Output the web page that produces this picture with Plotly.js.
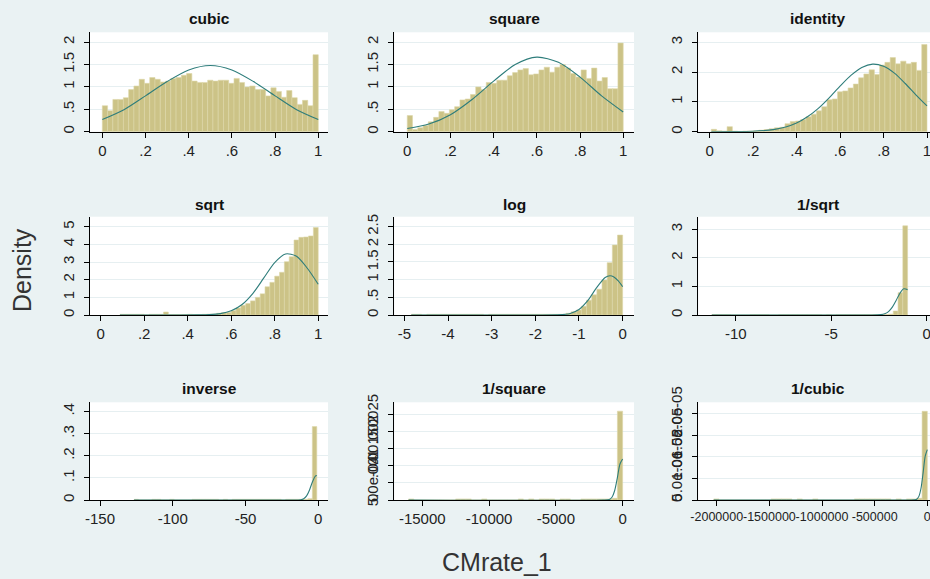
<!DOCTYPE html>
<html><head><meta charset="utf-8">
<script src="https://cdn.plot.ly/plotly-3.0.1.min.js"></script>
<style>html,body{margin:0;padding:0;overflow:hidden;background:#eaf2f3;width:930px;height:579px}#chart{width:945px;height:579px}</style>
</head><body><div id="chart"></div>
<script>
// ---------- DATA ----------
const panelTitles = ["cubic","square","identity","sqrt","log","1/sqrt","inverse","1/square","1/cubic"];
const yAxisTitle = "Density";
const xAxisTitle = "CMrate_1";

// histogram bin limits (data min / max of each transform), 41 bins each
const binLo = [0, 0, 0.0079, 0.0889, -4.84, -11.25, -126.6, -16023, -2028000];
const binHi = [1, 1, 1, 1, 0, -1, -1, -1, -1];

const cubicDensity = [0.58,0.47,0.72,0.72,0.76,0.94,1.02,1.17,1.08,1.21,1.17,1.11,1.13,1.19,1.21,1.26,1.30,1.13,1.10,1.10,1.15,1.13,1.15,1.15,1.08,1.19,1.10,1.00,1.02,0.94,0.94,0.80,0.98,0.90,0.77,0.92,0.76,0.61,0.70,0.58,1.72];
const squareDensity = [0.36,0.05,0.09,0.14,0.22,0.32,0.45,0.41,0.49,0.56,0.71,0.73,0.83,1.00,0.94,1.10,1.08,1.15,1.15,1.25,1.32,1.38,1.41,1.27,1.29,1.38,1.44,1.33,1.44,1.50,1.42,1.30,1.22,1.38,1.19,1.42,1.13,1.21,0.96,0.96,1.98];
const identityDensity = [0.08,0.03,0.02,0.17,0.02,0.01,0.02,0.02,0.03,0.05,0.07,0.10,0.13,0.15,0.27,0.34,0.36,0.41,0.50,0.59,0.70,0.84,1.07,1.10,1.34,1.37,1.47,1.60,1.81,1.94,2.08,1.92,2.24,2.33,2.49,2.28,2.37,2.28,2.33,2.06,2.93];
const sqrtDensity = [0.04,0.04,0.04,0.04,0.04,0,0.04,0.04,0.04,0.17,0.03,0.03,0.03,0.03,0.04,0.03,0.03,0.04,0.05,0.05,0.10,0.13,0.15,0.25,0.40,0.55,0.65,0.80,1.00,1.20,1.60,1.85,2.20,2.42,3.02,3.30,4.25,4.40,4.42,4.48,4.96];
const logDensity = [0.02,0.02,0,0.02,0.02,0.02,0.02,0.02,0.02,0.02,0.02,0.02,0.02,0.02,0,0.02,0.02,0.02,0.02,0.02,0.02,0.02,0.02,0.02,0.02,0.02,0.02,0.02,0.02,0.02,0.05,0.09,0.14,0.25,0.42,0.57,0.73,0.99,1.48,1.98,2.26];
const invSqrtDensity = [0.015,0.015,0.015,0.015,0,0,0,0,0.015,0.015,0.015,0.015,0,0,0.015,0.015,0.015,0.015,0.015,0.015,0.015,0.015,0.015,0,0.015,0,0.015,0.015,0.015,0.015,0.015,0.015,0.015,0.015,0.015,0.015,0.015,0.03,0.14,0.78,3.12];
const inverseDensity = [0.003,0,0,0,0.003,0.003,0,0,0.003,0,0,0,0,0.003,0.003,0.003,0.003,0.003,0.003,0,0.003,0,0.003,0.003,0.003,0.003,0.003,0.003,0.003,0.003,0.003,0.003,0.003,0,0.003,0.003,0.003,0.003,0.003,0.006,0.332];
const invSquareDensity = [0.00003,0,0,0,0,0,0,0,0,0.00003,0.00003,0.00003,0,0,0.00003,0,0,0,0,0,0,0.00003,0,0.00003,0,0.00003,0.00003,0.00003,0,0.00003,0.00003,0,0,0.00003,0.00003,0.00003,0.00003,0.00003,0.00003,0.00005,0.00261];
const invCubicDensity = [2.5e-7,0,0,0,0,0,0,0,0,0,0,2.5e-7,2.5e-7,2.5e-7,2.5e-7,0,2.5e-7,0,0,2.5e-7,0,0,0,0,0,0,0,2.5e-7,2.5e-7,2.5e-7,2.5e-7,2.5e-7,2.5e-7,2.5e-7,0,2.5e-7,0,2.5e-7,2.5e-7,4e-7,2.06e-5];

// normal-density overlay
const cubicCurveX = [0,0.1,0.2,0.3,0.4,0.5,0.6,0.7,0.8,0.9,1];
const cubicCurveY = [0.27,0.49,0.80,1.12,1.38,1.48,1.38,1.12,0.80,0.49,0.27];
const squareCurveX = [0,0.1,0.2,0.3,0.4,0.5,0.6,0.7,0.8,0.9,1];
const squareCurveY = [0.07,0.17,0.38,0.72,1.13,1.50,1.665,1.55,1.22,0.80,0.44];
const identityCurveX = [0.0079,0.1,0.2,0.3,0.35,0.4,0.45,0.5,0.55,0.6,0.65,0.7,0.75,0.8,0.85,0.9,0.95,1];
const identityCurveY = [0,0.002,0.015,0.078,0.157,0.29,0.50,0.785,1.14,1.53,1.89,2.157,2.27,2.20,1.97,1.62,1.23,0.865];
const sqrtCurveX = [0.0889,0.3,0.45,0.5,0.55,0.6,0.65,0.7,0.75,0.8,0.85,0.9,0.95,1];
const sqrtCurveY = [0,0,0.005,0.021,0.078,0.238,0.595,1.23,2.10,2.97,3.46,3.33,2.65,1.74];
const logCurveX = [-4.84,-2,-1.5,-1.3,-1.2,-1.0,-0.8,-0.6,-0.4,-0.29,-0.2,-0.1,0];
const logCurveY = [0,0,0.004,0.021,0.045,0.157,0.405,0.765,1.059,1.11,1.076,0.965,0.80];
const invSqrtCurveX = [-11.25,-3,-2.4,-2.2,-2.0,-1.8,-1.6,-1.4,-1.2,-1.0];
const invSqrtCurveY = [0,0,0.012,0.041,0.119,0.275,0.51,0.763,0.918,0.888];
const inverseCurveX = [-126.6,-20,-12,-10,-8,-6,-4,-2,-1];
const inverseCurveY = [0,0,0.0012,0.0056,0.0186,0.0455,0.0818,0.108,0.111];
const invSquareCurveX = [-16023,-1500,-1000,-800,-600,-400,-200,-1];
const invSquareCurveY = [0,0,0.000016,0.00008,0.000272,0.000645,0.001059,0.001204];
const invCubicCurveX = [-2028000,-200000,-120000,-100000,-80000,-60000,-40000,-20000,-1];
const invCubicCurveY = [0,0,2.8e-8,1.84e-7,8.4e-7,2.73e-6,6.28e-6,1.02e-5,1.17e-5];

// tick values and labels
const xTickVals = [
  [0,0.2,0.4,0.6,0.8,1],[0,0.2,0.4,0.6,0.8,1],[0,0.2,0.4,0.6,0.8,1],
  [0,0.2,0.4,0.6,0.8,1],[-5,-4,-3,-2,-1,0],[-10,-5,0],
  [-150,-100,-50,0],[-15000,-10000,-5000,0],[-2000000,-1500000,-1000000,-500000,0]];
const xTickText = [
  ["0",".2",".4",".6",".8","1"],["0",".2",".4",".6",".8","1"],["0",".2",".4",".6",".8","1"],
  ["0",".2",".4",".6",".8","1"],["-5","-4","-3","-2","-1","0"],["-10","-5","0"],
  ["-150","-100","-50","0"],["-15000","-10000","-5000","0"],["-2000000","-1500000","-1000000","-500000","0"]];
const yTickVals = [
  [0,0.5,1,1.5,2],[0,0.5,1,1.5,2],[0,1,2,3],
  [0,1,2,3,4,5],[0,0.5,1,1.5,2,2.5],[0,1,2,3],
  [0,0.1,0.2,0.3,0.4],[0,0.0005,0.001,0.0015,0.002,0.0025],[0,0.000005,0.00001,0.000015,0.00002]];
const yTickText = [
  ["0",".5","1","1.5","2"],["0",".5","1","1.5","2"],["0","1","2","3"],
  ["0","1","2","3","4","5"],["0",".5","1","1.5","2","2.5"],["0","1","2","3"],
  ["0",".1",".2",".3",".4"],["0","5.0e-04",".001",".0015",".002",".0025"],["0","5.0e-06","1.0e-05","1.5e-05","2.0e-05"]];

// ---------- BUILD ----------
const densities = [cubicDensity,squareDensity,identityDensity,sqrtDensity,logDensity,invSqrtDensity,inverseDensity,invSquareDensity,invCubicDensity];
const curvesX = [cubicCurveX,squareCurveX,identityCurveX,sqrtCurveX,logCurveX,invSqrtCurveX,inverseCurveX,invSquareCurveX,invCubicCurveX];
const curvesY = [cubicCurveY,squareCurveY,identityCurveY,sqrtCurveY,logCurveY,invSqrtCurveY,inverseCurveY,invSquareCurveY,invCubicCurveY];

const W = 945, H = 579;
const colL = [90, 394.3, 698.3], colR = [328, 634, 937];
const rowT = [32.3, 216.7, 402.3], rowB = [131.7, 315, 500], titleY = [18, 204, 388];
const xRanges = [[-0.057,1.045],[-0.06,1.05],[-0.052,1.046],[-0.049,1.045],[-5.23,0.26],[-11.96,0.54],[-156.9,6.7],[-17096,850],[-2175000,92000]];
const yRanges = [[0,2.22],[0,2.22],[0,3.34],[0,5.57],[0,2.78],[0,3.44],[0,0.442],[0,0.00287],[0,2.27e-5]];
const xTickSize = [15,15,15,15,15,15,15,15,12.5];

const FONT = "Liberation Sans, Arial, sans-serif";
const barFill = "#ccc387", barLine = "#ddd6aa", curveColor = "#2e7d7b";

const traces = [];
const layout = {
  width: W, height: H, margin:{l:0,r:0,t:0,b:0},
  paper_bgcolor:"#eaf2f3", plot_bgcolor:"#ffffff",
  showlegend:false, font:{family:FONT, color:"#222"},
  annotations: []
};

for (let k = 0; k < 9; k++) {
  const r = Math.floor(k/3), c = k % 3;
  const sfx = k === 0 ? "" : String(k+1);
  const nb = densities[k].length;
  const w = (binHi[k] - binLo[k]) / nb;
  const centers = densities[k].map((_, i) => binLo[k] + (i + 0.5) * w);
  traces.push({type:"bar", x:centers, y:densities[k], width:w,
    marker:{color:barFill, line:{color:barLine, width:0.6}},
    xaxis:"x"+sfx, yaxis:"y"+sfx, hoverinfo:"skip"});
  traces.push({type:"scatter", mode:"lines", x:curvesX[k], y:curvesY[k],
    line:{color:curveColor, width:1.1, shape:"spline", smoothing:0.8},
    xaxis:"x"+sfx, yaxis:"y"+sfx, hoverinfo:"skip"});
  layout["xaxis"+sfx] = {
    domain:[colL[c]/W, colR[c]/W], anchor:"y"+sfx, range:xRanges[k],
    tickmode:"array", tickvals:xTickVals[k], ticktext:xTickText[k], tickangle:0,
    ticks:"outside", ticklen:5, tickwidth:1, tickcolor:"#000",
    showline:true, linecolor:"#000", linewidth:1, showgrid:false, zeroline:false,
    tickfont:{size:xTickSize[k], family:FONT, color:"#222"}
  };
  layout["yaxis"+sfx] = {
    domain:[(H-rowB[r])/H, (H-rowT[r])/H], anchor:"x"+sfx, range:yRanges[k],
    tickmode:"array", tickvals:yTickVals[k], ticktext:yTickText[k], tickangle:-90,
    ticks:"outside", ticklen:5, tickwidth:1, tickcolor:"#000", ticklabelstandoff:4,
    showline:true, linecolor:"#000", linewidth:1, showgrid:true, gridcolor:"#e6eff1", gridwidth:1, zeroline:false,
    tickfont:{size:15, family:FONT, color:"#222"}
  };
  layout.annotations.push({text:"<b>"+panelTitles[k]+"</b>", xref:"paper", yref:"paper",
    x:(colL[c]+colR[c])/2/W, y:(H-titleY[r])/H, xanchor:"center", yanchor:"middle",
    showarrow:false, font:{size:15.5, family:FONT, color:"#111"}});
}
layout.annotations.push({text:yAxisTitle, xref:"paper", yref:"paper", x:22/W, y:(H-270)/H,
  textangle:-90, xanchor:"center", yanchor:"middle", showarrow:false, font:{size:25, family:FONT, color:"#333"}});
layout.annotations.push({text:xAxisTitle, xref:"paper", yref:"paper", x:497/W, y:(H-562)/H,
  xanchor:"center", yanchor:"middle", showarrow:false, font:{size:25, family:FONT, color:"#333"}});

Plotly.newPlot("chart", traces, layout, {staticPlot:true, displayModeBar:false});
</script></body></html>
